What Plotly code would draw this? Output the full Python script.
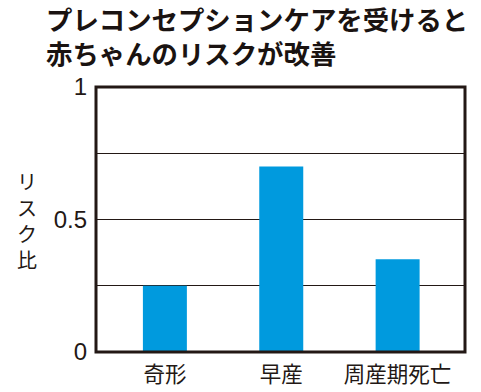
import plotly.graph_objects as go

categories = ["奇形", "早産", "周産期死亡"]
risk_ratio = [0.25, 0.70, 0.35]
y_tick_vals = [0, 0.25, 0.5, 0.75, 1]
y_tick_text = ["0", "", "0.5", "", "1"]
title_lines = ["プレコンセプションケアを受けると", "赤ちゃんのリスクが改善"]
y_title_chars = ["リ", "ス", "ク", "比"]

W, H = 481, 392
L, R, T, B = 96, 465.5, 87, 352
ink = "#231815"

def px_x(p):
    return (p - L) / (R - L)

def px_y(p):
    return (B - p) / (B - T)

fig = go.Figure()
fig.add_trace(go.Bar(
    x=list(range(len(categories))), y=risk_ratio,
    width=0.378, marker=dict(color="#009ADE", line=dict(width=0)),
))

annotations = [
    dict(
        text="<br>".join(title_lines), xref="paper", yref="paper",
        x=px_x(44), y=px_y(-3), xanchor="left", yanchor="top", align="left",
        showarrow=False,
        font=dict(family="Noto Sans CJK JP", size=26.4, color="#1a1311", weight=700),
    ),
    dict(
        text="<br>".join(y_title_chars), xref="paper", yref="paper",
        x=px_x(27), y=px_y(220), xanchor="center", yanchor="middle",
        showarrow=False, borderpad=0,
        font=dict(family="Noto Sans CJK JP", size=20, color=ink),
    ),
]

fig.update_layout(
    width=W, height=H, autosize=False,
    margin=dict(l=L, r=W - R, t=T, b=H - B, pad=0, autoexpand=False),
    paper_bgcolor="white", plot_bgcolor="white",
    showlegend=False,
    annotations=annotations,
    xaxis=dict(
        range=[-0.592, 2.579], tickvals=list(range(len(categories))),
        ticktext=categories, showgrid=False, zeroline=False, showline=False,
        ticks="", ticklabelstandoff=7, automargin=False,
        tickfont=dict(family="Noto Sans CJK JP", size=21.5, color=ink),
    ),
    yaxis=dict(
        range=[0, 1], tickvals=y_tick_vals, ticktext=y_tick_text,
        showgrid=True, gridcolor=ink, gridwidth=1, zeroline=False,
        showline=False, ticks="", ticklabelstandoff=8, automargin=False,
        tickfont=dict(family="Liberation Sans", size=24, color=ink),
    ),
    shapes=[dict(type="rect", xref="paper", yref="paper", x0=0, x1=1, y0=0, y1=1,
                 line=dict(color=ink, width=3), layer="above")],
)

fig.write_html("out.html", config={"displayModeBar": False},
               post_script="document.body.style.margin='0px';")
